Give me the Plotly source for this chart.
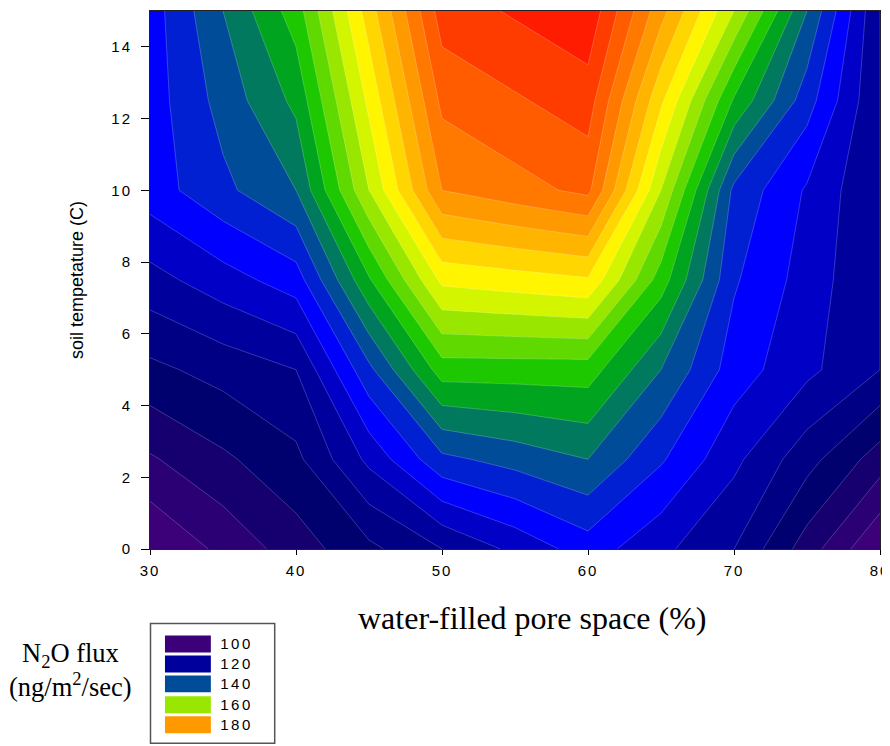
import plotly.graph_objects as go

# Water-filled pore space (%), soil temperature (C), N2O flux
water_filled = [30, 35, 40, 45, 50, 55, 60, 65, 70, 75, 80]
soil_temp = [0, 2.5, 5, 7.5, 10, 12.5, 15]
flux_t0 = [104, 109, 114, 119, 124, 129, 134, 129, 124, 114, 104]
flux_t2 = [111.5, 115.25, 119, 129, 139, 141.5, 144, 136.5, 129, 121.5, 114]
flux_t5 = [119, 121.5, 124, 139, 154, 154, 154, 144, 134, 129, 124]
flux_t7 = [126.5, 130.25, 134, 151.5, 169, 170.25, 171.5, 154, 136.5, 130.25, 124]
flux_t10 = [134, 139, 144, 164, 184, 186.5, 189, 164, 139, 131.5, 124]
flux_t12 = [134, 141.5, 149, 169, 189, 191.5, 194, 172.75, 151.5, 137.75, 124]
flux_t15 = [134, 144, 154, 174, 194, 196.5, 199, 181.5, 164, 144, 124]
flux = [flux_t0, flux_t2, flux_t5, flux_t7, flux_t10, flux_t12, flux_t15]

band_colors = ["#3C0078", "#2A0074", "#160070", "#00006E", "#000085", "#00009C",
               "#0000C6", "#0000FF", "#0020D2", "#004C99", "#00795F", "#00A41E",
               "#1EC800", "#5FD900", "#99E600", "#D4F500", "#FFF500", "#FFD600",
               "#FFB400", "#FF9900", "#FF7800", "#FF5C00", "#FF3C00", "#FF1C00"]
legend_labels = ["100", "120", "140", "160", "180"]
legend_colors = ["#3C0078", "#00009C", "#004C99", "#99E600", "#FF9900"]

# page position of the figure inside the browser body
OFF = 8
PL, PR, PT, PB = 150 - OFF, 881.7 - OFF, 10 - OFF, 549.3 - OFF
W, H = 890 - OFF, 746 - OFF
def px(v): return (v - OFF - PL) / (PR - PL)
def py(v): return (PB - (v - OFF)) / (PB - PT)

n = len(band_colors)
colorscale = [[i / (n - 1), c] for i, c in enumerate(band_colors)]

fig = go.Figure(go.Contour(
    x=water_filled, y=soil_temp, z=flux,
    autocontour=False,
    contours=dict(start=108, end=196, size=4, coloring="fill", showlines=True),
    line=dict(color="rgba(255,255,255,0.35)", width=0.6, smoothing=0),
    colorscale=colorscale, showscale=False, hoverinfo="skip",
))

sans = "Liberation Sans"
serif = "Liberation Serif"

shapes = [dict(type="rect", xref="paper", yref="paper",
               x0=px(150.5), x1=px(275), y0=py(744), y1=py(624),
               line=dict(color="#555555", width=1.5), fillcolor="white")]
annotations = []
tops = [636, 656, 676, 697, 717]
for top, col, lab in zip(tops, legend_colors, legend_labels):
    shapes.append(dict(type="rect", xref="paper", yref="paper",
                       x0=px(165), x1=px(211), y0=py(top + 17), y1=py(top),
                       line=dict(width=0), fillcolor=col))
    annotations.append(dict(text=lab, xref="paper", yref="paper", x=px(222), y=py(top + 8.5),
                            xanchor="left", yanchor="middle", showarrow=False,
                            font=dict(family=sans, size=15, color="black")))

annotations += [
    dict(text="soil tempetature (C)", xref="paper", yref="paper", x=px(77.5), y=py(280),
         xanchor="center", yanchor="middle",
         textangle=-90, showarrow=False, font=dict(family=sans, size=18, color="black")),
    dict(text="water-filled pore space (%)", xref="paper", yref="paper", x=px(533), y=py(618),
         xanchor="center", yanchor="middle",
         showarrow=False, font=dict(family=serif, size=32, color="black")),
    dict(text="N<sub>2</sub>O flux", xref="paper", yref="paper", x=px(70.5), y=py(656),
         xanchor="center", yanchor="middle",
         showarrow=False, font=dict(family=serif, size=26.5, color="black")),
    dict(text="(ng/m<sup>2</sup>/sec)", xref="paper", yref="paper", x=px(70.5), y=py(686),
         xanchor="center", yanchor="middle",
         showarrow=False, font=dict(family=serif, size=26.5, color="black")),
]

fig.update_layout(
    width=W, height=H, autosize=False,
    margin=dict(l=PL, r=W - PR, t=PT, b=H - PB),
    paper_bgcolor="white", plot_bgcolor="white",
    shapes=shapes, annotations=annotations,
    xaxis=dict(range=[30, 80], tickmode="array", tickvals=[30, 40, 50, 60, 70, 80],
               ticks="outside", ticklen=5, tickcolor="black", tickwidth=1, ticklabelstandoff=3,
               ticklabeloverflow="allow",
               showline=True, linecolor="#222222", linewidth=1, mirror=True, showgrid=False, zeroline=False,
               tickfont=dict(family=sans, size=15, color="black")),
    yaxis=dict(range=[0, 15], tickmode="array", tickvals=[0, 2, 4, 6, 8, 10, 12, 14],
               ticks="outside", ticklen=8, tickcolor="black", tickwidth=1, ticklabelstandoff=6,
               showline=True, linecolor="#222222", linewidth=1, mirror=True, showgrid=False, zeroline=False,
               tickfont=dict(family=sans, size=15, color="black")),
)
spacing_js = """
document.querySelectorAll('.xtick text, .ytick text').forEach(function(t){t.style.letterSpacing='2px';});
document.querySelectorAll('.annotation-text').forEach(function(t){
  if (/^\\d+$/.test(t.textContent)) t.style.letterSpacing='2.5px';
});
"""
fig.write_html("out.html", post_script=spacing_js)
